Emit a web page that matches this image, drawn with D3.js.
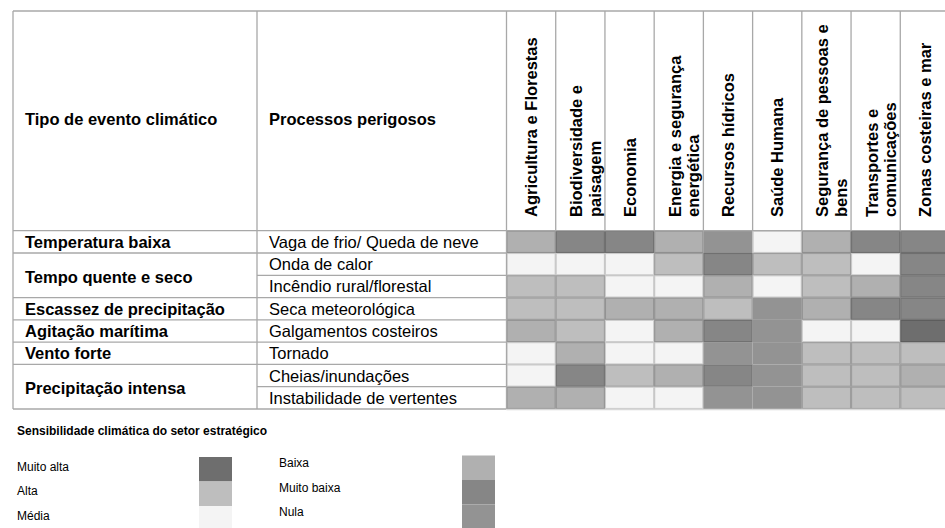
<!DOCTYPE html>
<html><head><meta charset="utf-8">
<script src="https://cdn.jsdelivr.net/npm/d3@7"></script>
<style>
html,body{margin:0;padding:0;background:#fff;}
svg{display:block;font-family:"Liberation Sans",Arial,Helvetica,sans-serif;}
</style></head>
<body><svg id="chart" width="945" height="528"></svg>
<script>
(function(){
// ---- data ----
const sectors = [
  ["Agricultura e Florestas"],
  ["Biodiversidade e","paisagem"],
  ["Economia"],
  ["Energia e segurança","energética"],
  ["Recursos hídricos"],
  ["Saúde Humana"],
  ["Segurança de pessoas e","bens"],
  ["Transportes e","comunicações"],
  ["Zonas costeiras e mar"]
];
const processes = [
  "Vaga de frio/ Queda de neve",
  "Onda de calor",
  "Incêndio rural/florestal",
  "Seca meteorológica",
  "Galgamentos costeiros",
  "Tornado",
  "Cheias/inundações",
  "Instabilidade de vertentes"
];
const eventTypes = ["Temperatura baixa","Tempo quente e seco","Escassez de precipitação","Agitação marítima","Vento forte","Precipitação intensa"];
const eventSpans = [1,2,1,1,1,2];
const levels = ["Muito alta","Alta","Média","Baixa","Muito baixa","Nula"];
const levelColors = ["#6e6e6e","#bebebe","#f4f4f4","#b0b0b0","#868686","#939393"];
// MA=Muito alta, A=Alta, M=Média, B=Baixa, MB=Muito baixa, N=Nula
const levelCodes = ["MA","A","M","B","MB","N"];
const sensitivity = [
  ["B","MB","MB","B","N","M","B","MB","MB"],
  ["M","M","M","A","MB","A","A","M","MB"],
  ["A","A","M","M","B","M","A","B","MB"],
  ["A","A","B","B","A","N","B","MB","MB"],
  ["B","A","M","B","MB","N","M","M","MA"],
  ["M","B","M","M","N","N","A","A","A"],
  ["M","MB","A","B","MB","N","A","A","B"],
  ["B","B","M","M","N","N","A","A","A"]
];
const headerLabels = ["Tipo de evento climático","Processos perigosos"];
const legendTitle = "Sensibilidade climática do setor estratégico";

// ---- layout ----
const svg = d3.select("#chart");
const tLeft = 13, tTop = 11, headerBottom = 230.7, tableBottom = 409;
const col2X = 257, gridX = 506.5, gridRight = 949.5;
const lineColor = "#a8a8a8";
const color = d3.scaleOrdinal().domain(levelCodes).range(levelColors);

const x = d3.scaleBand().domain(d3.range(sectors.length)).range([gridX, gridRight]).paddingInner(0);
const y = d3.scaleBand().domain(d3.range(processes.length)).range([headerBottom, tableBottom]).paddingInner(0);

// cells (fill)
const cells = [];
sensitivity.forEach((row, i) => row.forEach((v, j) => cells.push({i, j, v})));
svg.append("g").selectAll("rect").data(cells).join("rect")
  .attr("x", d => x(d.j)).attr("y", d => y(d.i))
  .attr("width", x.bandwidth()).attr("height", y.bandwidth())
  .attr("fill", d => color(d.v));
// cell borders (not for Nula merged cells)
svg.append("g").selectAll("rect").data(cells.filter(d => d.v !== "N")).join("rect")
  .attr("x", d => x(d.j) + 0.5).attr("y", d => y(d.i) + 0.5)
  .attr("width", x.bandwidth() - 1).attr("height", y.bandwidth() - 1)
  .attr("fill", "none").attr("stroke", "#000").attr("stroke-opacity", 0.16).attr("stroke-width", 1.2);

// grid lines of the table
const g = svg.append("g").attr("stroke", lineColor).attr("stroke-width", 1.3).attr("fill", "none");
g.append("line").attr("x1", tLeft).attr("x2", 945).attr("y1", tTop).attr("y2", tTop);
g.append("line").attr("x1", tLeft).attr("x2", 945).attr("y1", headerBottom).attr("y2", headerBottom);
g.append("line").attr("x1", tLeft).attr("x2", gridX).attr("y1", tableBottom).attr("y2", tableBottom);
g.append("line").attr("x1", gridX).attr("x2", 945).attr("y1", tableBottom + 0.5).attr("y2", tableBottom + 0.5).attr("stroke", "#d8d8d8");
g.append("line").attr("x1", tLeft).attr("x2", tLeft).attr("y1", tTop).attr("y2", tableBottom);
g.append("line").attr("x1", col2X).attr("x2", col2X).attr("y1", tTop).attr("y2", tableBottom);
g.append("line").attr("x1", gridX).attr("x2", gridX).attr("y1", tTop).attr("y2", tableBottom);
// header column dividers
g.selectAll(".hd").data(d3.range(1, sectors.length + 1)).join("line")
  .attr("x1", d => x(d - 1) + x.bandwidth()).attr("x2", d => x(d - 1) + x.bandwidth())
  .attr("y1", tTop).attr("y2", headerBottom);
// row lines in process column
g.selectAll(".rp").data(d3.range(1, processes.length)).join("line")
  .attr("x1", col2X).attr("x2", gridX).attr("y1", d => y(d)).attr("y2", d => y(d));
// row lines in event type column (respecting merged rows)
const eventStarts = [];
let acc = 0;
eventSpans.forEach(s => { eventStarts.push(acc); acc += s; });
g.selectAll(".re").data(eventStarts.slice(1)).join("line")
  .attr("x1", tLeft).attr("x2", col2X).attr("y1", d => y(d)).attr("y2", d => y(d));

// header texts
const fs = 16.5;
svg.append("g").selectAll("text").data(headerLabels).join("text")
  .attr("x", (d, i) => i === 0 ? 25 : 269).attr("y", 125)
  .attr("font-size", fs).attr("font-weight", "bold").attr("fill", "#000").text(d => d);

// rotated sector labels
const sg = svg.append("g");
sectors.forEach((lines, j) => {
  const cx = x(j) + x.bandwidth() / 2;
  lines.forEach((t, k) => {
    const bx = lines.length === 1 ? cx + 6 : cx + 2 + k * 18.5;
    sg.append("text")
      .attr("transform", `translate(${bx},217) rotate(-90)`)
      .attr("font-size", fs).attr("font-weight", "bold").attr("fill", "#000")
      .text(t);
  });
});

// event type texts
svg.append("g").selectAll("text").data(eventTypes).join("text")
  .attr("x", 25)
  .attr("y", (d, i) => y(eventStarts[i]) + y.step() * eventSpans[i] / 2 + 6 + (eventSpans[i] > 1 ? 1.5 : 0))
  .attr("font-size", fs).attr("font-weight", "bold").attr("fill", "#000").text(d => d);

// process texts
svg.append("g").selectAll("text").data(processes).join("text")
  .attr("x", 269).attr("y", (d, i) => y(i) + y.bandwidth() / 2 + 6)
  .attr("font-size", fs).attr("fill", "#000").text(d => d);

// ---- legend ----
const lg = svg.append("g");
lg.append("text").attr("x", 17).attr("y", 435).attr("font-size", 12).attr("font-weight", "bold")
  .attr("fill", "#000").text(legendTitle);
const ly = d3.scaleBand().domain([0, 1, 2]).range([457, 530.5]);
const legendItems = levels.map((l, i) => ({l, c: levelColors[i], col: Math.floor(i / 3), row: i % 3}));
const textX = [17, 279], swX = [199, 462];
lg.selectAll("rect").data(legendItems).join("rect")
  .attr("x", d => swX[d.col]).attr("y", d => ly(d.row) - (d.col ? 1.5 : 0))
  .attr("width", 33).attr("height", ly.bandwidth())
  .attr("fill", d => d.c);
lg.selectAll(".lt").data(legendItems).join("text")
  .attr("x", d => textX[d.col])
  .attr("y", d => ly(d.row) + ly.bandwidth() / 2 + (d.col ? -2 : 1.5))
  .attr("font-size", 12).attr("fill", "#000").text(d => d.l);
})();
</script></body></html>
